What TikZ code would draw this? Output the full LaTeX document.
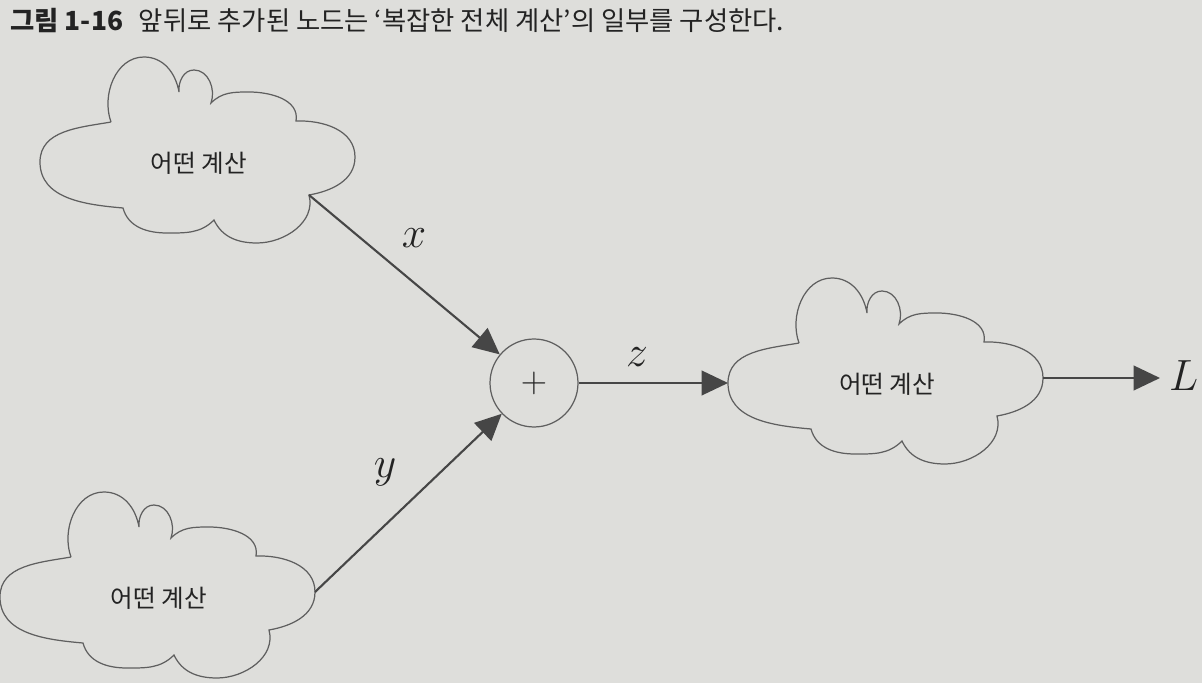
\documentclass[tikz,border=0pt]{standalone}
\usepackage{fontspec}
\setmainfont{Noto Sans CJK KR}
\usepackage{tikz}
\usetikzlibrary{arrows.meta,calc}

\definecolor{paper}{RGB}{222,222,219}
\definecolor{ink}{RGB}{35,35,35}
\definecolor{edge}{RGB}{95,95,95}
\definecolor{arrowc}{RGB}{70,70,70}

% cloud with a label, anchored at its text centre
\tikzset{
  pics/cloud/.style={code={
    \draw[cloudline] (-88,41) to[out=190,in=90] (-159,1) to[out=-90,in=175] (-76,-45)
      to[out=-75,in=180] (-32,-70) to[out=0,in=-135] (15,-57)
      to[out=-65,in=180] (58,-80) to[out=0,in=-75] (110,-32)
      to[out=10,in=-90] (156,6) to[out=90,in=2] (97,42)
      to[out=80,in=0] (50,71) to[out=180,in=45] (12,60)
      to[out=70,in=0] (-5,93) to[out=180,in=95] (-20,71)
      to[out=100,in=0] (-55,106) to[out=180,in=110] (-88,41);
    \coordinate (-lft) at (-159,1);
    \coordinate (-rgt) at (156,6);
    \coordinate (-dr) at (110,-32);
    \node[cloudtext] (-txt) at (0,0) {#1};
  }}
}

\begin{document}
\begin{tikzpicture}[x=0.02cm,y=0.02cm,
  cloudline/.style={draw=edge,line width=0.7pt},
  cloudtext/.style={font=\fontsize{14}{16}\selectfont,text=ink},
  flow/.style={draw=arrowc,line width=1.2pt,-{Triangle[length=15pt,width=14pt]}},
  lbl/.style={font=\fontsize{26}{26}\selectfont,text=ink,anchor=base,inner sep=0pt}]
\fill[paper] (0,0) rectangle (1202,683);
\useasboundingbox (0,0) rectangle (1202,683);

\node[anchor=base west,inner sep=0pt,text=ink,font=\fontsize{15}{18}\selectfont] (cap) at (10,652)
  {\textbf{그림 1-16}\hspace{0.6em}앞뒤로 추가된 노드는 ‘복잡한 전체 계산’의 일부를 구성한다.};

\pic (ctop) at (199,520) {cloud={어떤 계산}};
\pic (cbot) at (159,85) {cloud={어떤 계산}};
\pic (crgt) at (887,299) {cloud={어떤 계산}};

\node[draw=edge,line width=0.7pt,circle,minimum size=1.76cm,inner sep=0pt,text=ink,
  font=\fontsize{22}{22}\selectfont] (plus) at (534,300) {$+$};
\node[lbl,anchor=base west,inner xsep=5pt] (loss) at (1160,293) {$L$};

\draw[flow] (ctop-dr) -- (plus);
\draw[flow] (cbot-rgt) -- (plus);
\draw[flow] (plus) -- (crgt-lft);
\draw[flow] (crgt-rgt) -- (crgt-rgt -| loss.west);

\node[lbl] (xlbl) at (414,435) {$x$};
\node[lbl] (ylbl) at (385,206) {$y$};
\node[lbl] (zlbl) at (637,316) {$z$};
\end{tikzpicture}
\end{document}
